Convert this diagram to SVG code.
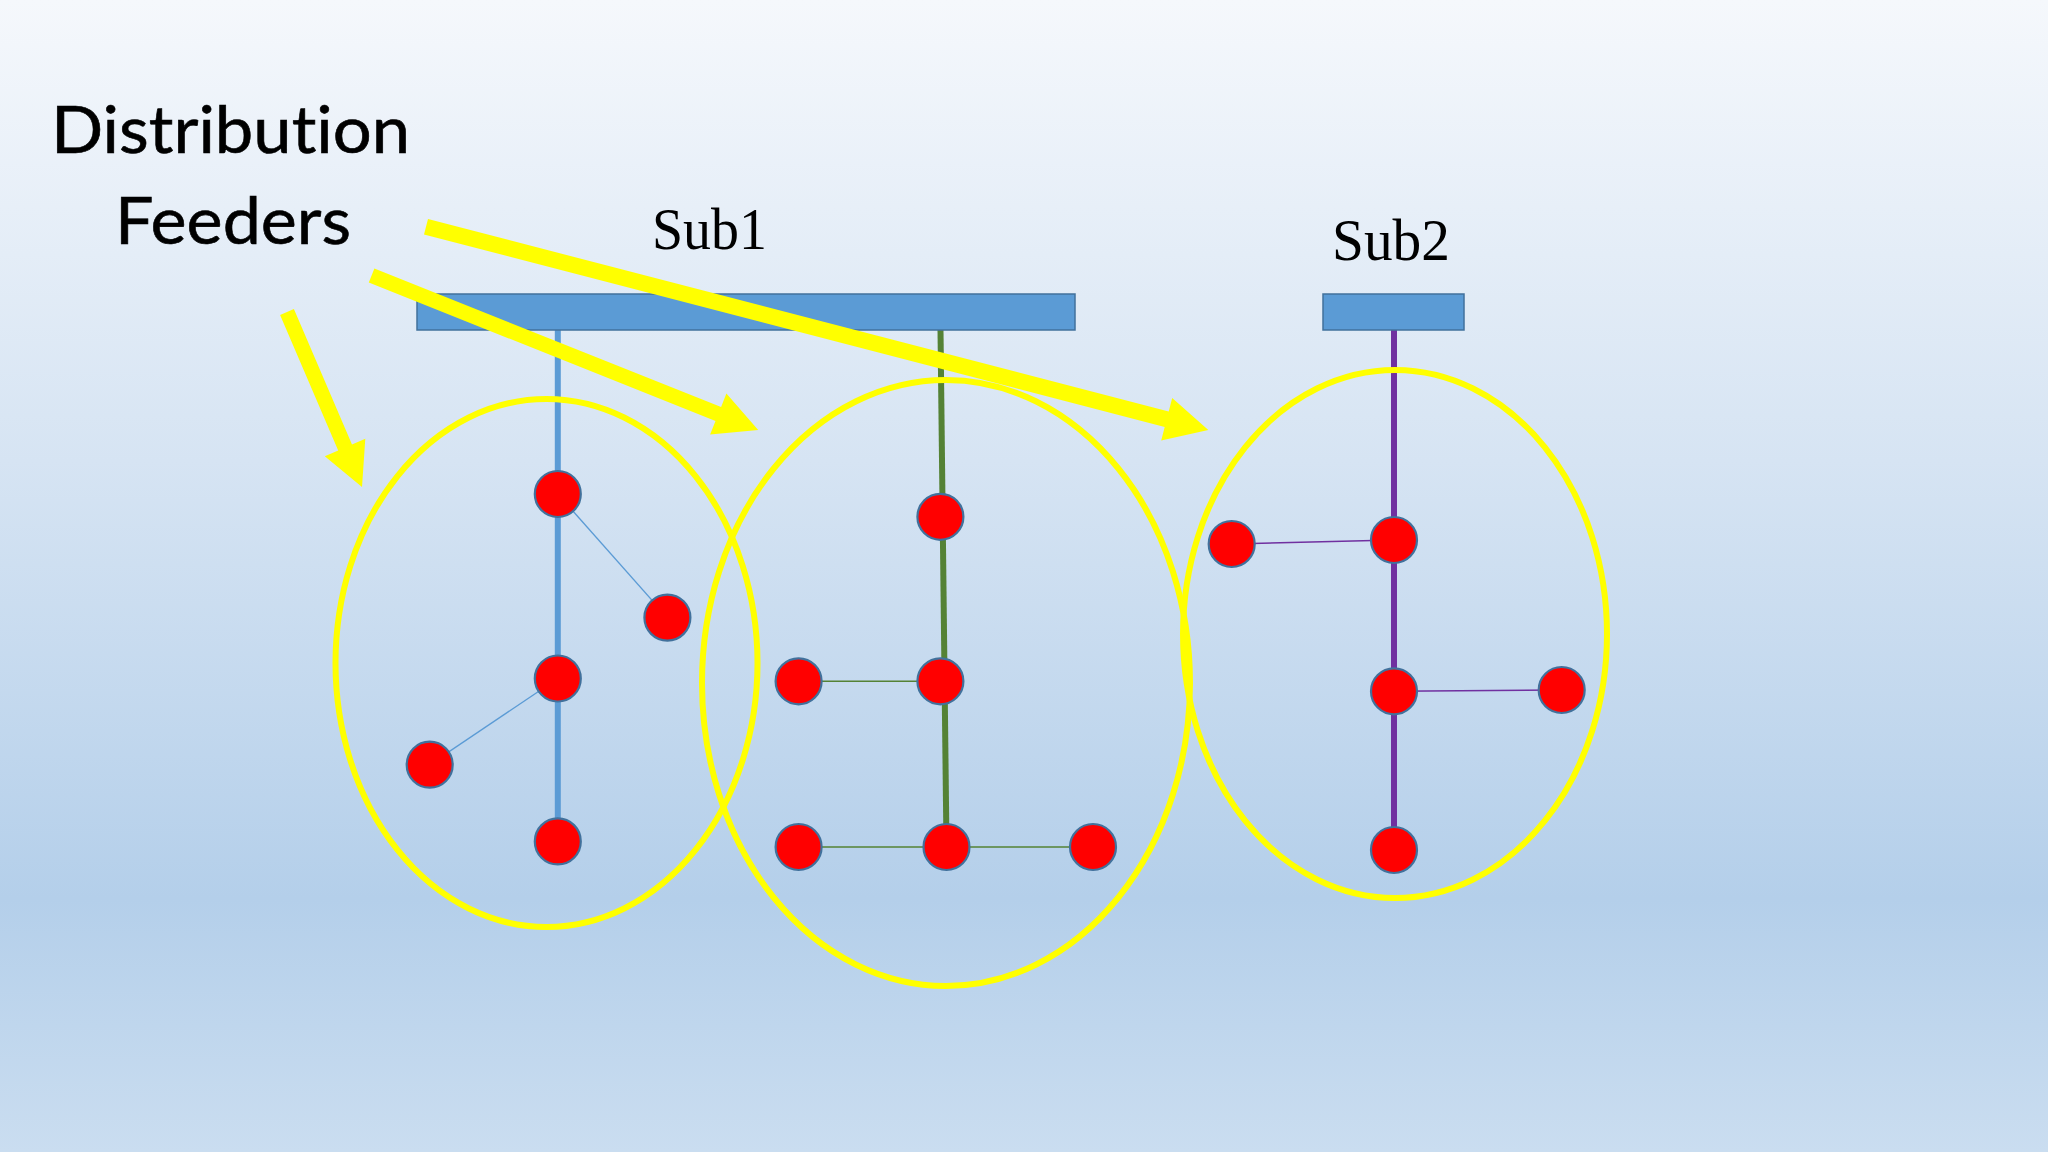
<svg xmlns="http://www.w3.org/2000/svg" width="2048" height="1152" viewBox="0 0 2048 1152">
  <defs>
    <linearGradient id="bg" x1="0" y1="0" x2="0" y2="1">
      <stop offset="0" stop-color="#F5F8FC"/>
      <stop offset="0.4" stop-color="#D6E4F3"/>
      <stop offset="0.78" stop-color="#B4CFEA"/>
      <stop offset="1" stop-color="#CADDF0"/>
    </linearGradient>
    <style>
      .node { fill: #FF0000; stroke: #41719C; stroke-width: 2.2; }
      .bar { fill: #5B9BD5; stroke: #41719C; stroke-width: 1.5; }
      .ring { fill: none; stroke: #FFFF00; stroke-width: 6; }
      .arrow { fill: #FFFF00; }
      .main { stroke-width: 6; fill: none; }
      .thin { stroke-width: 1.4; fill: none; }
      .blue { stroke: #5B9BD5; }
      .green { stroke: #548235; }
      .purple { stroke: #7030A0; }
      .title { font-family: Lato, "Open Sans", "Liberation Sans", sans-serif; font-size: 66px; fill: #000; stroke: #000; stroke-width: 0.6; font-variant-ligatures: none; font-feature-settings: "liga" 0; }
      .sub { font-family: "Liberation Serif", "Times New Roman", serif; font-size: 60px; fill: #000; }
    </style>
  </defs>
  <rect x="0" y="0" width="2048" height="1152" fill="url(#bg)"/>

  <g id="title">
    <text class="title" x="51" y="153" textLength="359" lengthAdjust="spacingAndGlyphs">Distribution</text>
    <text class="title" x="115" y="244" textLength="236" lengthAdjust="spacingAndGlyphs">Feeders</text>
  </g>

  <g id="connectors">
    <line class="main blue" x1="557.8" y1="330" x2="557.8" y2="841"/>
    <line class="main green" x1="940.5" y1="330" x2="946.5" y2="847"/>
    <line class="main purple" x1="1394" y1="330" x2="1394" y2="850"/>
    <line class="thin blue" x1="557.8" y1="494" x2="667.4" y2="617.6"/>
    <line class="thin blue" x1="557.8" y1="678.5" x2="429.7" y2="764.7"/>
    <line class="thin green" x1="798.6" y1="681.3" x2="940.4" y2="681.3"/>
    <line class="thin green" x1="798.6" y1="847" x2="1093" y2="847"/>
    <line class="thin purple" x1="1231.7" y1="544" x2="1394" y2="540"/>
    <line class="thin purple" x1="1394" y1="691.3" x2="1561.7" y2="690"/>
  </g>

  <g id="sub1">
    <rect class="bar" x="417" y="294" width="658" height="36"/>
    <text class="sub" x="652" y="249" textLength="115" lengthAdjust="spacingAndGlyphs">Sub1</text>
  </g>
  <g id="sub2">
    <rect class="bar" x="1323" y="294" width="141" height="36"/>
    <text class="sub" x="1332" y="260" textLength="118" lengthAdjust="spacingAndGlyphs">Sub2</text>
  </g>

  <g id="feeder1-nodes">
    <circle class="node" cx="557.8" cy="494" r="23"/>
    <circle class="node" cx="667.4" cy="617.6" r="23"/>
    <circle class="node" cx="557.8" cy="678.5" r="23"/>
    <circle class="node" cx="429.7" cy="764.7" r="23"/>
    <circle class="node" cx="557.8" cy="841.4" r="23"/>
  </g>
  <g id="feeder2-nodes">
    <circle class="node" cx="940.4" cy="516.8" r="23"/>
    <circle class="node" cx="798.6" cy="681.3" r="23"/>
    <circle class="node" cx="940.4" cy="681.3" r="23"/>
    <circle class="node" cx="798.6" cy="847" r="23"/>
    <circle class="node" cx="946.5" cy="847" r="23"/>
    <circle class="node" cx="1093" cy="847" r="23"/>
  </g>
  <g id="feeder3-nodes">
    <circle class="node" cx="1231.7" cy="544" r="23"/>
    <circle class="node" cx="1394" cy="540" r="23"/>
    <circle class="node" cx="1394" cy="691.3" r="23"/>
    <circle class="node" cx="1561.7" cy="690" r="23"/>
    <circle class="node" cx="1394" cy="850" r="23"/>
  </g>

  <g id="feeder-areas">
    <ellipse class="ring" cx="546.5" cy="663" rx="211" ry="264"/>
    <ellipse class="ring" cx="946" cy="683" rx="244" ry="303"/>
    <ellipse class="ring" cx="1395" cy="634" rx="212" ry="264"/>
  </g>

  <g id="arrows">
    <polygon class="arrow" points="280.1,315 338.2,450.4 324.8,456.2 362,487 365.3,438.8 352,444.5 293.9,309"/>
    <polygon class="arrow" points="368.8,282.5 715.5,421 710.1,434.5 758.2,430 726.4,393.6 721.1,407.1 374.4,268.5"/>
    <polygon class="arrow" points="424,234.4 1164.7,426.9 1161.2,440.5 1208.3,430 1172.2,397.9 1168.7,411.5 428,219"/>
  </g>
</svg>
